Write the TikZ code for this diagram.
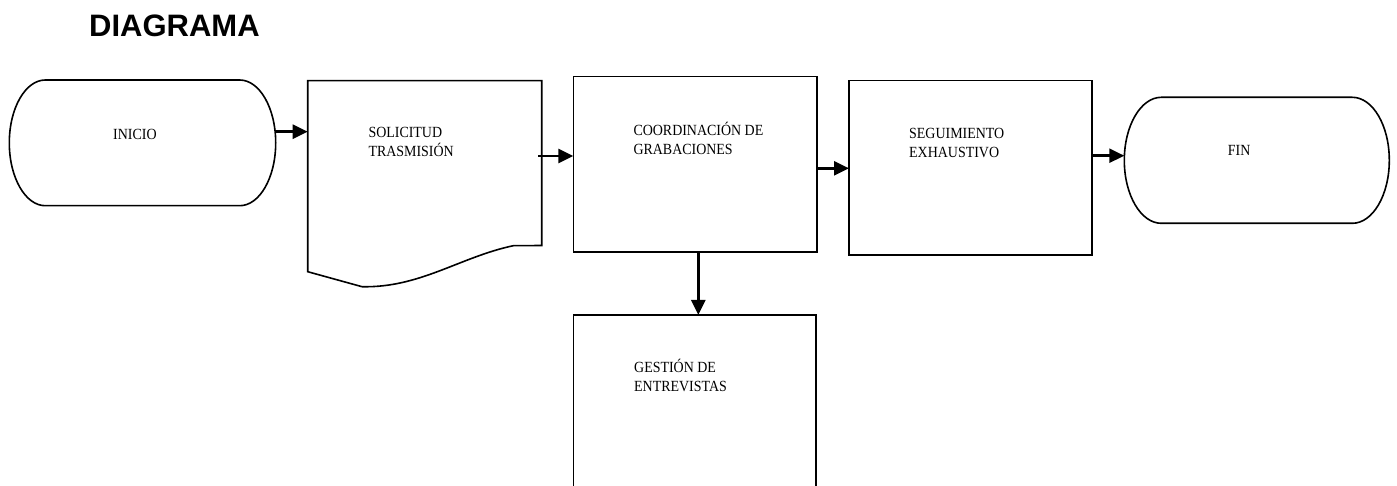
\documentclass[tikz,border=0pt]{standalone}
\usepackage{fontspec}
\setmainfont{Liberation Serif}
\newfontfamily\titlefont{Liberation Sans}
\newfontfamily\lblfont{Liberation Serif}[FakeStretch=0.9]
\usetikzlibrary{arrows.meta,calc}
\tikzset{
  shapeline/.style={line width=1.6pt, line join=miter},
  arr/.style={line width=2.6pt, -{Triangle[length=15pt,width=14pt]}},
  lbl/.style={anchor=base west, inner sep=0pt, font=\lblfont\fontsize{15.5}{19}\selectfont, align=left},
  frame/.style={inner sep=0pt, outer sep=0pt, draw=none},
}
\begin{document}
\begin{tikzpicture}[x=1pt,y=1pt]
\useasboundingbox (0,0) rectangle (1397,485);
% title
\node[anchor=base west,inner sep=0pt,font=\titlefont\bfseries\fontsize{31}{36}\selectfont] (title) at (89,448.3) {DIAGRAMA};
% frames of the shapes
\node[frame, minimum width=266.4pt, minimum height=125.7pt] (inicio) at (142.5,342.15) {};
\node[frame, minimum width=234pt, minimum height=206pt] (sol) at (424.7,301.3) {};
\node[frame, minimum width=243.4pt, minimum height=175.6pt] (coord) at (695,320.5) {};
\node[frame, minimum width=242.7pt, minimum height=174.3pt] (seg) at (970.35,317.15) {};
\node[frame, minimum width=265pt, minimum height=126pt] (fin) at (1256.8,324.7) {};
\node[frame, minimum width=242.7pt, minimum height=180pt] (gest) at (694.65,80) {};
% INICIO terminal
\draw[shapeline] ($(inicio.north west)+(36,0)$) -- ($(inicio.north east)+(-36,0)$)
  arc[start angle=90,end angle=-90,x radius=36pt,y radius=62.85pt]
  -- ($(inicio.south west)+(36,0)$)
  arc[start angle=270,end angle=90,x radius=36pt,y radius=62.85pt] -- cycle;
% document shape
\draw[shapeline] (sol.north west) -- (sol.north east) -- (541.7,239.5) -- (513.3,239.3)
  .. controls (460,228) and (420,197) .. (362,198.3) -- (307.7,213.3) -- cycle;
% rectangles
\draw[shapeline] (coord.south west) rectangle (coord.north east);
\draw[shapeline] (seg.south west) rectangle (seg.north east);
\draw[shapeline] (gest.south west) -- (gest.north west) -- (gest.north east) -- (gest.south east);
% FIN terminal
\draw[shapeline] ($(fin.north west)+(37,0)$) -- ($(fin.north east)+(-37,0)$)
  arc[start angle=90,end angle=-90,x radius=37pt,y radius=63pt]
  -- ($(fin.south west)+(37,0)$)
  arc[start angle=270,end angle=90,x radius=37pt,y radius=63pt] -- cycle;
% texts (anchor at baseline of last line)
\node[lbl] (t-inicio) at (113,345.7) {INICIO};
\node[lbl] (t-sol) at (368.3,328.5) {SOLICITUD\\TRASMISIÓN};
\node[lbl] (t-coord) at (633.3,330.3) {COORDINACIÓN DE\\GRABACIONES};
\node[lbl] (t-seg) at (909,327.7) {SEGUIMIENTO\\EXHAUSTIVO};
\node[lbl] (t-fin) at (1227.7,329) {FIN};
\node[lbl] (t-gest) at (634,93.3) {GESTIÓN DE\\ENTREVISTAS};
% connectors
\draw[arr] ($(inicio.east)+(-0.5,11.2)$) -- ($(inicio.east -| sol.west)+(0,11.2)$);
\draw[arr] ($(sol.east)+(-3.7,27.7)$) -- ($(sol.east -| coord.west)+(0,27.7)$);
\draw[arr] ($(coord.east)+(0,-3.8)$) -- ($(coord.east -| seg.west)+(0,-3.8)$);
\draw[arr] ($(seg.east)+(0,12.15)$) -- ($(seg.east -| fin.west)+(0,12.15)$);
\draw[arr] ($(coord.south)+(3.3,0)$) -- ($(coord.south |- gest.north)+(3.3,0)$);
\end{tikzpicture}
\end{document}
